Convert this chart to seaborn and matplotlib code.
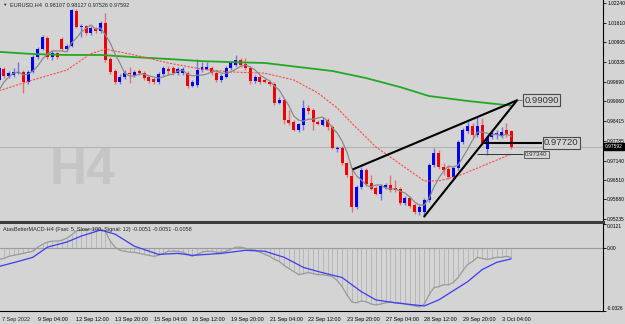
import matplotlib.pyplot as plt
import matplotlib.transforms as mtransforms
import seaborn as sns

bg = "#d4d4d4"

# EURUSD H4 candles, bar 0 = 7 Sep 2022 20:00
open_ = [0.9975, 1.0010, 0.9988, 0.9991, 0.9997, 1.0001, 0.9968, 1.0001, 1.0049, 1.0075,
         1.0111, 1.0049, 1.0062, 1.0108, 1.0075, 1.0085, 1.0198, 1.0147, 1.0150, 1.0127,
         1.0140, 1.0134, 1.0159, 1.0043, 1.0004, 0.9968, 0.9985, 0.9997, 0.9991, 1.0004,
         0.9997, 0.9985, 0.9978, 0.9968, 0.9994, 1.0010, 1.0014, 0.9997, 0.9997, 0.9997,
         0.9955, 0.9959, 1.0007, 1.0010, 1.0014, 0.9997, 0.9975, 0.9985, 1.0014, 1.0023,
         1.0040, 1.0027, 1.0014, 0.9972, 0.9985, 0.9975, 0.9968, 0.9962, 0.9900, 0.9910,
         0.9845, 0.9839, 0.9813, 0.9829, 0.9884, 0.9878, 0.9839, 0.9829, 0.9845, 0.9823,
         0.9751, 0.9754, 0.9706, 0.9664, 0.9563, 0.9628, 0.9683, 0.9640, 0.9625, 0.9605,
         0.9628, 0.9635, 0.9625, 0.9622, 0.9576, 0.9592, 0.9570, 0.9547, 0.9547, 0.9586,
         0.9699, 0.9738, 0.9693, 0.9686, 0.9661, 0.9690, 0.9774, 0.9810, 0.9826, 0.9797,
         0.9829, 0.9750, 0.9790, 0.9797, 0.9793, 0.9813, 0.98107]
high_ = [1.0020, 1.0017, 1.0004, 1.0014, 1.0033, 1.0007, 1.0007, 1.0056, 1.0082, 1.0121,
         1.0117, 1.0072, 1.0066, 1.0114, 1.0091, 1.0205, 1.0205, 1.0156, 1.0153, 1.0150,
         1.0147, 1.0166, 1.0192, 1.0049, 1.0010, 0.9994, 1.0007, 1.0017, 1.0007, 1.0010,
         1.0004, 0.9991, 0.9985, 1.0001, 1.0020, 1.0020, 1.0020, 1.0017, 1.0017, 1.0004,
         0.9975, 1.0043, 1.0033, 1.0033, 1.0020, 1.0004, 0.9994, 1.0020, 1.0036, 1.0056,
         1.0046, 1.0046, 1.0020, 0.9991, 0.9991, 0.9981, 0.9975, 0.9968, 0.9920, 0.9916,
         0.9878, 0.9845, 0.9835, 0.9910, 0.9894, 0.9884, 0.9845, 0.9855, 0.9852, 0.9829,
         0.9761, 0.9761, 0.9709, 0.9686, 0.9635, 0.9693, 0.9690, 0.9667, 0.9631, 0.9638,
         0.9641, 0.9667, 0.9651, 0.9628, 0.9599, 0.9599, 0.9576, 0.9570, 0.9592, 0.9706,
         0.9754, 0.9748, 0.9706, 0.9696, 0.9696, 0.9780, 0.9819, 0.9839, 0.9835, 0.9855,
         0.9852, 0.9797, 0.9813, 0.9813, 0.9823, 0.9835, 0.98127]
low_ = [0.9968, 0.9981, 0.9981, 0.9985, 0.9994, 0.9933, 0.9962, 0.9997, 1.0043, 1.0072,
        1.0043, 1.0040, 1.0043, 1.0069, 1.0069, 1.0082, 1.0143, 1.0114, 1.0121, 1.0121,
        1.0127, 1.0127, 1.0033, 0.9994, 0.9962, 0.9962, 0.9978, 0.9965, 0.9985, 0.9991,
        0.9975, 0.9965, 0.9962, 0.9962, 0.9988, 0.9991, 0.9991, 0.9991, 0.9991, 0.9949,
        0.9952, 0.9952, 1.0001, 1.0007, 0.9991, 0.9968, 0.9968, 0.9981, 1.0007, 1.0020,
        1.0017, 1.0007, 0.9962, 0.9965, 0.9962, 0.9965, 0.9955, 0.9894, 0.9897, 0.9832,
        0.9829, 0.9810, 0.9806, 0.9813, 0.9865, 0.9813, 0.9829, 0.9826, 0.9813, 0.9751,
        0.9742, 0.9699, 0.9661, 0.9547, 0.9557, 0.9622, 0.9631, 0.9618, 0.9602, 0.9586,
        0.9622, 0.9612, 0.9612, 0.9570, 0.9570, 0.9560, 0.9541, 0.9537, 0.9531, 0.9580,
        0.9693, 0.9686, 0.9667, 0.9654, 0.9654, 0.9683, 0.9767, 0.9803, 0.9790, 0.9790,
        0.9764, 0.9732, 0.9784, 0.9784, 0.9787, 0.9790, 0.97526]
close_ = [1.0014, 0.9988, 0.9997, 1.0001, 1.0001, 0.9968, 1.0001, 1.0049, 1.0075, 1.0114,
          1.0049, 1.0062, 1.0049, 1.0075, 1.0085, 1.0202, 1.0147, 1.0150, 1.0127, 1.0143,
          1.0134, 1.0159, 1.0040, 1.0001, 0.9968, 0.9985, 0.9997, 0.9994, 1.0001, 0.9997,
          0.9981, 0.9972, 0.9968, 0.9994, 1.0014, 1.0004, 0.9997, 1.0010, 1.0010, 0.9955,
          0.9968, 1.0007, 1.0017, 1.0017, 0.9997, 0.9975, 0.9988, 1.0014, 1.0030, 1.0040,
          1.0023, 1.0014, 0.9972, 0.9985, 0.9968, 0.9968, 0.9962, 0.9900, 0.9910, 0.9845,
          0.9835, 0.9813, 0.9832, 0.9884, 0.9874, 0.9839, 0.9832, 0.9845, 0.9823, 0.9754,
          0.9754, 0.9706, 0.9667, 0.9563, 0.9628, 0.9683, 0.9638, 0.9622, 0.9605, 0.9631,
          0.9635, 0.9618, 0.9618, 0.9576, 0.9592, 0.9567, 0.9547, 0.9563, 0.9586, 0.9699,
          0.9738, 0.9693, 0.9683, 0.9661, 0.9690, 0.9774, 0.9813, 0.9826, 0.9797, 0.9826,
          0.9771, 0.9790, 0.9803, 0.9803, 0.9806, 0.9797, 0.97592]
bars = list(range(len(close_)))

# fast MA (grey)
ma_fast = [0.9942, 0.9968, 0.9985, 0.9997, 1.0001, 0.9991, 0.9994, 1.0004, 1.0020, 1.0043,
           1.0059, 1.0069, 1.0069, 1.0069, 1.0066, 1.0095, 1.0111, 1.0130, 1.0143, 1.0153,
           1.0140, 1.0143, 1.0121, 1.0095, 1.0059, 1.0030, 0.9997, 0.9988, 0.9988, 0.9994,
           0.9994, 0.9988, 0.9985, 0.9981, 0.9985, 0.9991, 0.9994, 1.0004, 1.0007, 0.9994,
           0.9988, 0.9991, 0.9991, 0.9994, 1.0001, 1.0004, 0.9997, 0.9997, 1.0001, 1.0010,
           1.0020, 1.0023, 1.0017, 1.0007, 0.9991, 0.9981, 0.9972, 0.9955, 0.9942, 0.9916,
           0.9891, 0.9858, 0.9845, 0.9842, 0.9848, 0.9848, 0.9852, 0.9855, 0.9842, 0.9819,
           0.9803, 0.9777, 0.9742, 0.9690, 0.9664, 0.9651, 0.9635, 0.9628, 0.9635, 0.9635,
           0.9625, 0.9622, 0.9622, 0.9615, 0.9609, 0.9596, 0.9580, 0.9570, 0.9570, 0.9592,
           0.9628, 0.9657, 0.9680, 0.9696, 0.9693, 0.9699, 0.9725, 0.9751, 0.9780, 0.9806,
           0.9806, 0.9803, 0.9797, 0.9800, 0.9793, 0.9800, 0.9793]

# slow MA (green) and medium MA (red), sampled along the chart
green_x = [0, 7, 14, 21, 28, 35, 42, 48, 55, 62, 69, 76, 83, 89, 97, 106]
green_y = [1.0066, 1.0059, 1.0056, 1.0056, 1.0049, 1.0043, 1.0036, 1.0033, 1.0030, 1.0017,
           1.0004, 0.9981, 0.9952, 0.9923, 0.9907, 0.9892]
red_x = [0, 7, 14, 19, 22, 28, 35, 42, 48, 55, 61, 66, 70, 73, 78, 83, 88, 91, 95, 100, 106]
red_y = [0.9940, 0.9975, 1.0007, 1.0060, 1.0075, 1.0056, 1.0030, 1.0010, 1.0001, 0.9997,
         0.9975, 0.9933, 0.9884, 0.9835, 0.9758, 0.9703, 0.9648, 0.9648, 0.9664, 0.9696, 0.9735]

# MACD panel
macd = [-0.0061, -0.0056, -0.0045, -0.0040, -0.0035, -0.0030, -0.0024, -0.0019, 0.0002, 0.0017,
        0.0028, 0.0033, 0.0033, 0.0038, 0.0048, 0.0064, 0.0085, 0.0090, 0.0090, 0.0095,
        0.0095, 0.0095, 0.0085, 0.0033, 0.0002, -0.0014, -0.0019, -0.0024, -0.0024, -0.0030,
        -0.0035, -0.0040, -0.0045, -0.0040, -0.0030, -0.0019, -0.0019, -0.0019, -0.0024, -0.0035,
        -0.0045, -0.0035, -0.0024, -0.0019, -0.0019, -0.0024, -0.0024, -0.0019, -0.0009, 0.0002,
        0.0002, -0.0004, -0.0009, -0.0014, -0.0024, -0.0035, -0.0045, -0.0061, -0.0071, -0.0092,
        -0.0108, -0.0123, -0.0139, -0.0134, -0.0128, -0.0134, -0.0139, -0.0139, -0.0144, -0.0149,
        -0.0170, -0.0201, -0.0243, -0.0279, -0.0284, -0.0274, -0.0279, -0.0290, -0.0295, -0.0290,
        -0.0284, -0.0279, -0.0284, -0.0284, -0.0290, -0.0295, -0.0300, -0.0305, -0.0290, -0.0243,
        -0.0206, -0.0201, -0.0191, -0.0191, -0.0180, -0.0154, -0.0118, -0.0087, -0.0071, -0.0050,
        -0.0056, -0.0061, -0.0056, -0.0050, -0.0050, -0.0045, -0.0051]
signal_x = [0, 4, 7, 10, 14, 17, 21, 24, 28, 33, 37, 40, 46, 51, 55, 59, 63, 66, 71, 75,
            78, 82, 88, 91, 94, 97, 100, 103, 106]
signal_y = [-0.0097, -0.0071, -0.0050, 0.0002, 0.0028, 0.0059, 0.0090, 0.0069, 0.0007, -0.0035,
            -0.0030, -0.0040, -0.0030, -0.0014, -0.0019, -0.0050, -0.0102, -0.0123, -0.0154, -0.0227,
            -0.0269, -0.0284, -0.0300, -0.0269, -0.0222, -0.0175, -0.0113, -0.0076, -0.0058]

# chart objects (bar index, price)
wedge_upper_x = [73.3, 107.2]
wedge_upper_y = [0.9686, 0.9909]
wedge_lower_x = [88.0, 107.2]
wedge_lower_y = [0.9533, 0.9909]
level_main_x = [100.0, 112.4]
level_main = 0.9772
level_low_x = [98.9, 108.5]
level_low = 0.9734
last_price = 0.97592

price_ticks = [1.02240, 1.01610, 1.00965, 1.00335, 0.99690, 0.99060, 0.98415,
               0.97785, 0.97140, 0.96510, 0.95880, 0.95235]
time_ticks = [8, 16, 24, 32, 40, 48, 56, 64, 72, 80, 88, 96, 104]
time_labels = ["9 Sep 04:00", "12 Sep 12:00", "13 Sep 20:00", "15 Sep 04:00", "16 Sep 12:00",
               "19 Sep 20:00", "21 Sep 04:00", "22 Sep 12:00", "23 Sep 20:00", "27 Sep 04:00",
               "28 Sep 12:00", "29 Sep 20:00", "3 Oct 04:00"]

sns.set_style("white", {"axes.facecolor": bg, "figure.facecolor": bg})
plt.rcParams['font.family'] = ['Liberation Sans', 'DejaVu Sans']

fig = plt.figure(figsize=(6.25, 3.24), dpi=100)
ax = fig.add_axes([0, 0.3148, 0.9648, 0.6852])
ax2 = fig.add_axes([0, 0.0401, 0.9648, 0.2685], sharex=ax)

# watermark + last price line
ax.text(10.5, 0.9683, "H4", fontsize=37, fontweight="bold", color="#c5c5c5",
        ha="left", va="center", zorder=0)
ax.axhline(last_price, color="#b4b4b4", lw=0.8, zorder=1)

# candles
up = [c >= o for o, c in zip(open_, close_)]
cols = ["#0000f0" if u else "#f00000" for u in up]
ax.vlines(bars, low_, high_, colors=cols, lw=1.0, alpha=0.45, zorder=2)
bottoms = [min(o, c) for o, c in zip(open_, close_)]
heights = [max(abs(c - o), 0.00012) for o, c in zip(open_, close_)]
ax.bar(bars, heights, bottom=bottoms, width=0.62, color=cols, linewidth=0, zorder=3)

# moving averages
sns.lineplot(x=green_x, y=green_y, ax=ax, color="#22a822", linewidth=1.3, zorder=4)
sns.lineplot(x=red_x, y=red_y, ax=ax, color="#ff4a4a", linewidth=0.8,
             linestyle=(0, (2, 1.2)), zorder=4)
sns.lineplot(x=bars, y=ma_fast, ax=ax, color="#8a8a8a", linewidth=0.9, zorder=4)

# wedge and levels
sns.lineplot(x=wedge_upper_x, y=wedge_upper_y, ax=ax, color="black", linewidth=1.5, zorder=5)
sns.lineplot(x=wedge_lower_x, y=wedge_lower_y, ax=ax, color="black", linewidth=1.5, zorder=5)
ax.hlines(level_main, level_main_x[0], level_main_x[1], color="black", lw=1.5, zorder=5)
ax.hlines(level_low, level_low_x[0], level_low_x[1], color="#333333", lw=0.7, zorder=5)
ax.hlines(wedge_upper_y[1], wedge_upper_x[1], 108.3, color="#777777", lw=0.7, zorder=5)

box = dict(boxstyle="square,pad=0.15", fc=bg, ec="#4a4a4a", lw=0.8)
ax.text(108.7, wedge_upper_y[1], "0.99090", fontsize=6.8, color="#333333",
        ha="left", va="center", bbox=box, zorder=6)
ax.text(112.8, level_main, "0.97720", fontsize=6.8, color="#333333",
        ha="left", va="center", bbox=box, zorder=6)
ax.text(108.9, level_low, "0.97340", fontsize=4.4, color="#333333",
        ha="left", va="center", bbox=dict(boxstyle="square,pad=0.2", fc=bg, ec="#4a4a4a", lw=0.6),
        zorder=6)

ax.set_xlim(0.19, 125.0)
ax.set_ylim(0.9515, 1.0234)
ax.set_xlabel("")
ax.set_ylabel("")
ax.yaxis.tick_right()
ax.set_yticks(price_ticks)
ax.set_yticklabels([f"{v:.5f}" for v in price_ticks])
ax.tick_params(axis="y", labelsize=3.5, length=2.0, width=0.6, pad=1.0, colors="black")
ax.tick_params(axis="x", bottom=False, labelbottom=False)
for s in ["left", "top"]:
    ax.spines[s].set_visible(False)
ax.spines["right"].set_color("black")
ax.spines["right"].set_linewidth(0.8)
ax.spines["bottom"].set_color("#3c3c3c")
ax.spines["bottom"].set_linewidth(2.2)

trans = mtransforms.blended_transform_factory(ax.transAxes, ax.transData)
ax.text(1.003, last_price, "0.97592", transform=trans, fontsize=3.5, color="white",
        ha="left", va="center", bbox=dict(boxstyle="square,pad=0.25", fc="black", ec="black"),
        zorder=7, clip_on=False)

# MACD window
ax2.axhline(0, color="#9a9a9a", lw=0.8, zorder=1)
ax2.vlines(bars, 0, macd, colors="#ababab", lw=0.5, zorder=2)
sns.lineplot(x=bars, y=macd, ax=ax2, color="#9a9a9a", linewidth=0.9, zorder=3)
sns.lineplot(x=signal_x, y=signal_y, ax=ax2, color="#3c3cf0", linewidth=0.9, zorder=4)
ax2.set_ylim(-0.0326, 0.0121)
ax2.set_xlabel("")
ax2.set_ylabel("")
ax2.yaxis.tick_right()
ax2.set_yticks([0.0121, 0.0, -0.0326])
ax2.set_yticklabels(["0.0121", "0.00", "-0.0326"])
ylabs = ax2.get_yticklabels()
ylabs[0].set_va("top")
ylabs[2].set_va("bottom")
ax2.tick_params(axis="y", labelsize=3.5, length=2.0, width=0.6, pad=1.0, colors="black")
ax2.set_xticks(time_ticks)
ax2.set_xticklabels(time_labels)
for lab in ax2.get_xticklabels():
    lab.set_ha("left")
ax2.tick_params(axis="x", labelsize=4.0, length=2.5, width=0.6, pad=1.5, colors="black")
for s in ["left", "top"]:
    ax2.spines[s].set_visible(False)
for s in ["right", "bottom"]:
    ax2.spines[s].set_color("black")
    ax2.spines[s].set_linewidth(0.8)

fig.text(0.003, 0.0125, "7 Sep 2022", fontsize=4.0, ha="left", va="center")
fig.text(0.004, 1 - 4.5 / 324, "\u25bc", fontsize=3.2, ha="left", va="center")
fig.text(10 / 625, 1 - 4.5 / 324, "EURUSD,H4  0.98107 0.98127 0.97526 0.97592",
         fontsize=4.0, ha="left", va="center")
fig.text(3 / 625, 1 - 229 / 324,
         "AtasBetterMACD-H4 (Fast: 5, Slow: 100, Signal: 12) -0.0051 -0.0051 -0.0058",
         fontsize=4.0, ha="left", va="center")

fig.savefig("out.png", dpi=100, facecolor=bg)
